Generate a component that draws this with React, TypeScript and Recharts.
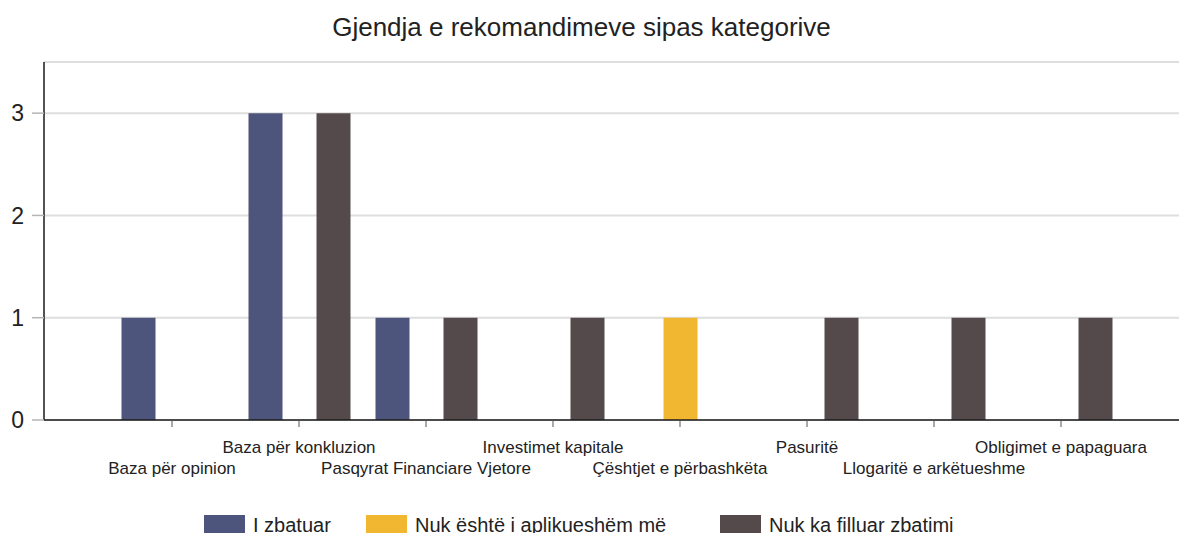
import React from 'react';
import { BarChart, Bar, XAxis, YAxis, CartesianGrid, Legend } from 'recharts';

const categories = [
  'Baza për opinion',
  'Baza për konkluzion',
  'Pasqyrat Financiare Vjetore',
  'Investimet kapitale',
  'Çështjet e përbashkëta',
  'Pasuritë',
  'Llogaritë e arkëtueshme',
  'Obligimet e papaguara',
];
const zbatuar = [1, 3, 1, 0, 0, 0, 0, 0];
const nukAplikueshem = [0, 0, 0, 0, 1, 0, 0, 0];
const nukFilluar = [0, 3, 1, 1, 0, 1, 1, 1];
const yTicks = [0, 1, 2, 3];

const series = [
  { key: 'zbatuar', name: 'I zbatuar', color: '#4e557d' },
  { key: 'nukAplikueshem', name: 'Nuk është i aplikueshëm më', color: '#f2b731' },
  { key: 'nukFilluar', name: 'Nuk ka filluar zbatimi', color: '#544a4b' },
];

const data = categories.map((name, i) => ({
  name,
  zbatuar: zbatuar[i],
  nukAplikueshem: nukAplikueshem[i],
  nukFilluar: nukFilluar[i],
}));

const FONT = '"Liberation Sans", Arial, sans-serif';

// staggered category labels: odd ones on the upper row
const CategoryTick = (props: any) => {
  const { x, y, payload, index } = props;
  const upper = index % 2 === 1;
  return (
    <text
      x={x}
      y={y + (upper ? 24 : 45)}
      textAnchor="middle"
      fontSize={17}
      fontFamily={FONT}
      fill="#222"
    >
      {payload.value}
    </text>
  );
};

const legendLefts = [204, 366, 720];

const LegendContent = () => (
  <div style={{ position: 'relative', height: 40, width: 1179, fontFamily: FONT }}>
    {series.map((s, i) => (
      <div
        key={s.key}
        style={{ position: 'absolute', left: legendLefts[i], top: 15, display: 'flex', alignItems: 'center' }}
      >
        <div style={{ width: 41, height: 20, background: s.color }} />
        <span style={{ marginLeft: 8, fontSize: 20, color: '#222', lineHeight: '20px' }}>{s.name}</span>
      </div>
    ))}
  </div>
);

export default function App() {
  return (
    <div
      style={{
        position: 'fixed',
        left: 0,
        top: 0,
        width: 1179,
        height: 533,
        overflow: 'hidden',
        background: '#fff',
      }}
    >
      <div
        style={{
          position: 'absolute',
          left: 0,
          top: 12,
          width: 1163,
          textAlign: 'center',
          fontFamily: FONT,
          fontSize: 26,
          lineHeight: '30px',
          color: '#222',
        }}
      >
        Gjendja e rekomandimeve sipas kategorive
      </div>
      <div style={{ position: 'absolute', left: 0, top: 0 }}>
        <BarChart
          width={1260}
          height={540}
          data={data}
          margin={{ top: 62, right: 0, left: 0, bottom: 0 }}
          barGap={0}
          barSize={34}
        >
          <CartesianGrid vertical={false} stroke="#dedede" strokeWidth={2} />
          <XAxis
            dataKey="name"
            interval={0}
            height={80}
            padding={{ left: 64.5, right: 135.5 }}
            axisLine={{ stroke: '#1a1a1a', strokeWidth: 1.5 }}
            tickLine={{ stroke: '#555' }}
            tickSize={7}
            tick={<CategoryTick />}
          />
          <YAxis
            type="number"
            width={44}
            domain={[0, 3.5]}
            allowDataOverflow
            ticks={yTicks}
            axisLine={{ stroke: '#1a1a1a', strokeWidth: 1.5 }}
            tickLine={{ stroke: '#b5b5b5', strokeWidth: 1.5 }}
            tickSize={12}
            tickMargin={8}
            tick={{ fill: '#222', fontSize: 23, fontFamily: FONT }}
          />
          <Legend
            verticalAlign="bottom"
            align="left"
            height={40}
            wrapperStyle={{ left: 0 }}
            content={<LegendContent />}
          />
          {series.map((s) => (
            <Bar key={s.key} dataKey={s.key} name={s.name} fill={s.color} isAnimationActive={false} />
          ))}
        </BarChart>
      </div>
    </div>
  );
}
